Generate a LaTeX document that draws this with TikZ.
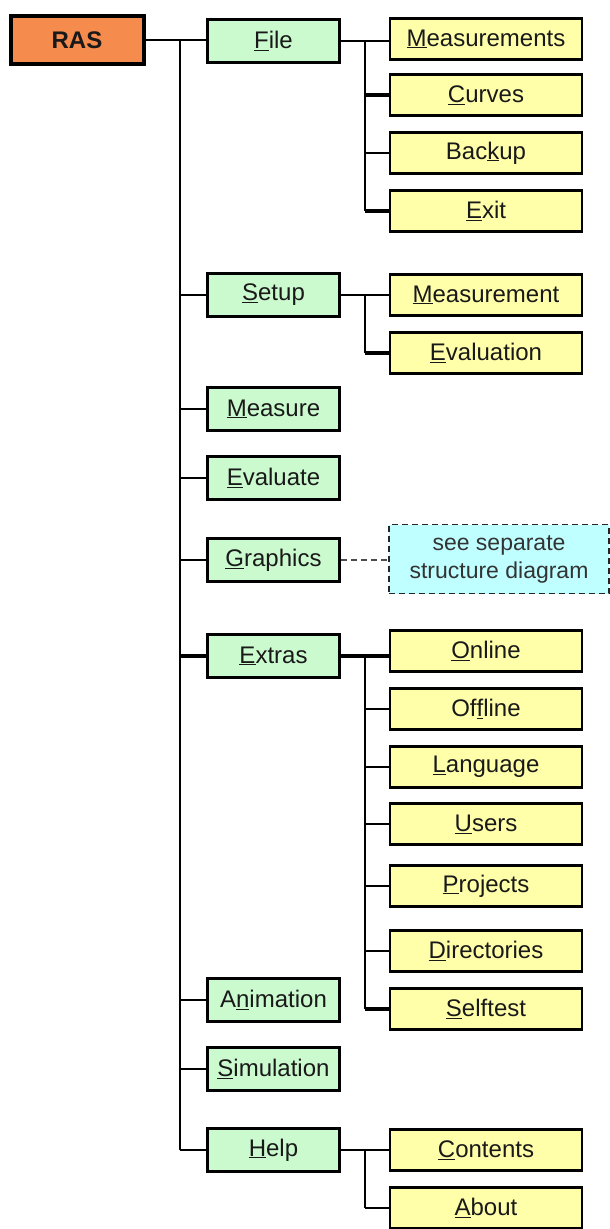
\documentclass[tikz,border=0pt]{standalone}
\usepackage{fontspec}
\setmainfont{Liberation Sans}
\usetikzlibrary{positioning}
\definecolor{rasorange}{HTML}{F58B4C}
\definecolor{menugreen}{HTML}{CCFACF}
\definecolor{subyellow}{HTML}{FFFFAA}
\definecolor{notecyan}{HTML}{BFFFFF}
\newcommand{\ul}[1]{\underline{#1}}
\begin{document}
\begin{tikzpicture}[x=1pt,y=-1pt,
  every node/.style={font=\fontsize{24}{28}\selectfont, inner sep=0pt, text=black!90},
  rootbox/.style={draw=black, line width=4pt, fill=rasorange, minimum width=133pt, minimum height=48pt, font=\fontsize{24}{28}\selectfont\bfseries},
  menubox/.style={draw=black, line width=2.8pt, fill=menugreen, minimum width=132pt, minimum height=43pt},
  subbox/.style={draw=black, line width=2.8pt, fill=subyellow, minimum width=192pt, minimum height=41pt},
  notebox/.style={draw=black!85, dash pattern=on 6pt off 4pt, line width=1.6pt, fill=notecyan, minimum width=220pt, minimum height=69pt, align=center, text=black!80, font=\fontsize{23}{28}\selectfont},
  conn/.style={line width=2.4pt},
  thick conn/.style={line width=3.4pt},
  note conn/.style={draw=black!70, dash pattern=on 6pt off 4pt, line width=1.5pt}
]
\useasboundingbox (0,0) rectangle (610,1229);

% root
\node[rootbox] (ras) at (77,40) {RAS};

% menu level
\node[menubox] (file)  at (273.5,41)  {\ul{F}ile};
\node[menubox] (setup) at (273.5,295) {\ul{S}etup};
\node[menubox] (measure) at (273.5,409) {\ul{M}easure};
\node[menubox] (evaluate) at (273.5,478) {\ul{E}valuate};
\node[menubox] (graphics) at (273.5,560) {\ul{G}raphics};
\node[menubox] (extras) at (273.5,656) {\ul{E}xtras};
\node[menubox] (animation) at (273.5,1000) {A\ul{n}imation};
\node[menubox] (simulation) at (273.5,1069) {\ul{S}imulation};
\node[menubox] (help) at (273.5,1150) {\ul{H}elp};

% File submenu
\node[subbox] (measurements) at (486,39)  {\ul{M}easurements};
\node[subbox] (curves)       at (486,95)  {\ul{C}urves};
\node[subbox] (backup)       at (486,153) {Bac\ul{k}up};
\node[subbox] (exit)         at (486,211) {\ul{E}xit};

% Setup submenu
\node[subbox] (smeasurement) at (486,295) {\ul{M}easurement};
\node[subbox] (sevaluation)  at (486,353) {\ul{E}valuation};

% note
\node[notebox] (note) at (499,559) {see separate\\structure diagram};

% Extras submenu
\node[subbox] (online)      at (486,651)  {\ul{O}nline};
\node[subbox] (offline)     at (486,709)  {Of\ul{f}line};
\node[subbox] (language)    at (486,767)  {\ul{L}anguage};
\node[subbox] (users)       at (486,824)  {\ul{U}sers};
\node[subbox] (projects)    at (486,886)  {\ul{P}rojects};
\node[subbox] (directories) at (486,951)  {\ul{D}irectories};
\node[subbox] (selftest)    at (486,1009) {\ul{S}elftest};

% Help submenu
\node[subbox] (contents) at (486,1150) {\ul{C}ontents};
\node[subbox] (about)    at (486,1208) {\ul{A}bout};

% trunk
\coordinate (tr) at (180,40);
\coordinate (trb) at (180,1150);
\draw[conn] (ras.east) -- (file.west |- ras.east);
\draw[conn] (tr) -- (trb);
\foreach \n in {setup,measure,evaluate,graphics,animation,simulation,help}
  \draw[conn] (\n.west) -- (\n.west -| tr);
\draw[thick conn] (extras.west) -- (extras.west -| tr);

% File branch
\coordinate (fb) at (365,40);
\draw[conn] (file.east) -- (measurements.west |- file.east);
\draw[conn] (fb) -- (fb |- exit.west);
\draw[thick conn] (curves.west) -- (curves.west -| fb);
\draw[conn] (backup.west) -- (backup.west -| fb);
\draw[thick conn] (exit.west) -- (exit.west -| fb);

% Setup branch
\coordinate (sb) at (365,295);
\draw[conn] (setup.east) -- (smeasurement.west);
\draw[conn] (sb) -- (sb |- sevaluation.west);
\draw[thick conn] (sevaluation.west) -- (sevaluation.west -| sb);

% Graphics note
\draw[note conn] (graphics.east) -- (note.west |- graphics.east);

% Extras branch
\coordinate (eb) at (365,656);
\draw[thick conn] (extras.east) -- (online.west |- extras.east);
\draw[conn] (eb) -- (eb |- selftest.west);
\foreach \n in {offline,language,users,projects,directories}
  \draw[conn] (\n.west) -- (\n.west -| eb);
\draw[thick conn] (selftest.west) -- (selftest.west -| eb);

% Help branch
\coordinate (hb) at (365,1150);
\draw[conn] (help.east) -- (contents.west);
\draw[conn] (hb) -- (hb |- about.west);
\draw[conn] (about.west) -- (about.west -| hb);
\end{tikzpicture}
\end{document}
